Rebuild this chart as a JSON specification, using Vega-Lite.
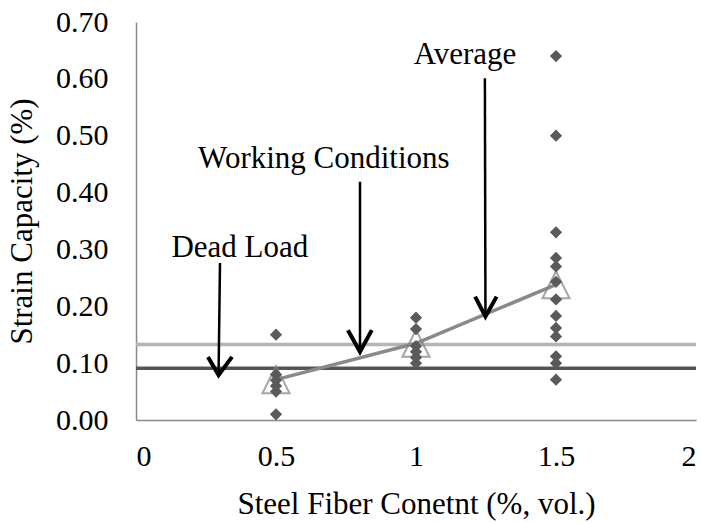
{
  "$schema": "https://vega.github.io/schema/vega-lite/v6.json",
  "autosize": {"type": "none"},
  "width": 560,
  "height": 398,
  "padding": {"left": 136, "top": 22, "right": 5, "bottom": 103},
  "background": "white",
  "config": {
    "view": {"stroke": null},
    "font": "Liberation Serif",
    "axis": {
      "grid": false,
      "ticks": false,
      "domainColor": "#898989",
      "domainWidth": 1.5,
      "labelFont": "Liberation Serif",
      "labelFontSize": 30,
      "labelColor": "#000000",
      "titleFont": "Liberation Serif",
      "titleFontSize": 31,
      "titleFontWeight": "normal",
      "titleColor": "#000000"
    }
  },
  "datasets": {
    "points": [
      {"fiber": 0.5, "strain": 0.15},
      {"fiber": 0.5, "strain": 0.08},
      {"fiber": 0.5, "strain": 0.07},
      {"fiber": 0.5, "strain": 0.06},
      {"fiber": 0.5, "strain": 0.05},
      {"fiber": 0.5, "strain": 0.01},
      {"fiber": 1, "strain": 0.18},
      {"fiber": 1, "strain": 0.16},
      {"fiber": 1, "strain": 0.13},
      {"fiber": 1, "strain": 0.12},
      {"fiber": 1, "strain": 0.11},
      {"fiber": 1, "strain": 0.10},
      {"fiber": 1.5, "strain": 0.64},
      {"fiber": 1.5, "strain": 0.50},
      {"fiber": 1.5, "strain": 0.33},
      {"fiber": 1.5, "strain": 0.285},
      {"fiber": 1.5, "strain": 0.27},
      {"fiber": 1.5, "strain": 0.243},
      {"fiber": 1.5, "strain": 0.212},
      {"fiber": 1.5, "strain": 0.183},
      {"fiber": 1.5, "strain": 0.162},
      {"fiber": 1.5, "strain": 0.147},
      {"fiber": 1.5, "strain": 0.112},
      {"fiber": 1.5, "strain": 0.10},
      {"fiber": 1.5, "strain": 0.071}
    ],
    "avg": [
      {"fiber": 0.5, "strain": 0.071},
      {"fiber": 1, "strain": 0.135},
      {"fiber": 1.5, "strain": 0.238}
    ],
    "refs": [
      {"label": "Dead Load", "strain": 0.091},
      {"label": "Working Conditions", "strain": 0.133}
    ],
    "notes": [
      {"label": "Dead Load", "fiber": 0.371, "strain": 0.287},
      {"label": "Working Conditions", "fiber": 0.671, "strain": 0.443},
      {"label": "Average", "fiber": 1.175, "strain": 0.627}
    ],
    "shafts": [
      {"arrow": "dead", "fiber": 0.300, "strain": 0.276, "fiber2": 0.295, "strain2": 0.085},
      {"arrow": "work", "fiber": 0.800, "strain": 0.419, "fiber2": 0.800, "strain2": 0.126},
      {"arrow": "avg", "fiber": 1.246, "strain": 0.601, "fiber2": 1.248, "strain2": 0.188}
    ],
    "heads": [
      {"arrow": "dead", "ord": 1, "fiber": 0.257, "strain": 0.111},
      {"arrow": "dead", "ord": 2, "fiber": 0.295, "strain": 0.079},
      {"arrow": "dead", "ord": 3, "fiber": 0.343, "strain": 0.111},
      {"arrow": "work", "ord": 1, "fiber": 0.757, "strain": 0.158},
      {"arrow": "work", "ord": 2, "fiber": 0.800, "strain": 0.120},
      {"arrow": "work", "ord": 3, "fiber": 0.842, "strain": 0.158},
      {"arrow": "avg", "ord": 1, "fiber": 1.211, "strain": 0.217},
      {"arrow": "avg", "ord": 2, "fiber": 1.248, "strain": 0.182},
      {"arrow": "avg", "ord": 3, "fiber": 1.288, "strain": 0.217}
    ]
  },
  "layer": [
    {
      "data": {"name": "refs"},
      "mark": {"type": "rule", "strokeWidth": 3.5},
      "encoding": {
        "y": {
          "field": "strain", "type": "quantitative",
          "scale": {"domain": [0, 0.7], "nice": false},
          "axis": {
            "title": "Strain Capacity (%)",
            "values": [0, 0.1, 0.2, 0.3, 0.4, 0.5, 0.6, 0.7],
            "format": ".2f",
            "labelPadding": 28,
            "titlePadding": 17
          }
        },
        "color": {
          "field": "label", "type": "nominal",
          "scale": {"domain": ["Dead Load", "Working Conditions"], "range": ["#555555", "#b5b5b5"]},
          "legend": null
        }
      }
    },
    {
      "data": {"name": "avg"},
      "mark": {"type": "line", "color": "#8a8a8a", "strokeWidth": 3.5},
      "encoding": {
        "x": {
          "field": "fiber", "type": "quantitative",
          "scale": {"domain": [0, 2], "nice": false},
          "axis": {
            "title": "Steel Fiber Conetnt (%, vol.)",
            "values": [0, 0.5, 1, 1.5, 2],
            "format": "~g",
            "labelPadding": 21,
            "titlePadding": 18
          }
        },
        "y": {"field": "strain", "type": "quantitative"}
      }
    },
    {
      "data": {"name": "avg"},
      "mark": {"type": "point", "shape": "M0,-1L-1,1L1,1Z", "filled": false, "stroke": "#808080", "strokeWidth": 2, "size": 729},
      "encoding": {
        "x": {"field": "fiber", "type": "quantitative"},
        "y": {"field": "strain", "type": "quantitative"}
      }
    },
    {
      "data": {"name": "points"},
      "mark": {"type": "point", "shape": "diamond", "filled": true, "color": "#5a5a5a", "opacity": 1, "size": 150},
      "encoding": {
        "x": {"field": "fiber", "type": "quantitative"},
        "y": {"field": "strain", "type": "quantitative"}
      }
    },
    {
      "data": {"name": "shafts"},
      "mark": {"type": "rule", "color": "#000000", "strokeWidth": 2.5},
      "encoding": {
        "x": {"field": "fiber", "type": "quantitative"},
        "y": {"field": "strain", "type": "quantitative"},
        "x2": {"field": "fiber2"},
        "y2": {"field": "strain2"}
      }
    },
    {
      "data": {"name": "heads"},
      "mark": {"type": "line", "color": "#000000", "strokeWidth": 4, "strokeJoin": "miter", "strokeCap": "butt"},
      "encoding": {
        "x": {"field": "fiber", "type": "quantitative"},
        "y": {"field": "strain", "type": "quantitative"},
        "detail": {"field": "arrow"},
        "order": {"field": "ord"}
      }
    },
    {
      "data": {"name": "notes"},
      "mark": {"type": "text", "font": "Liberation Serif", "fontSize": 31, "color": "#000000", "align": "center", "baseline": "alphabetic"},
      "encoding": {
        "x": {"field": "fiber", "type": "quantitative"},
        "y": {"field": "strain", "type": "quantitative"},
        "text": {"field": "label"}
      }
    }
  ]
}
